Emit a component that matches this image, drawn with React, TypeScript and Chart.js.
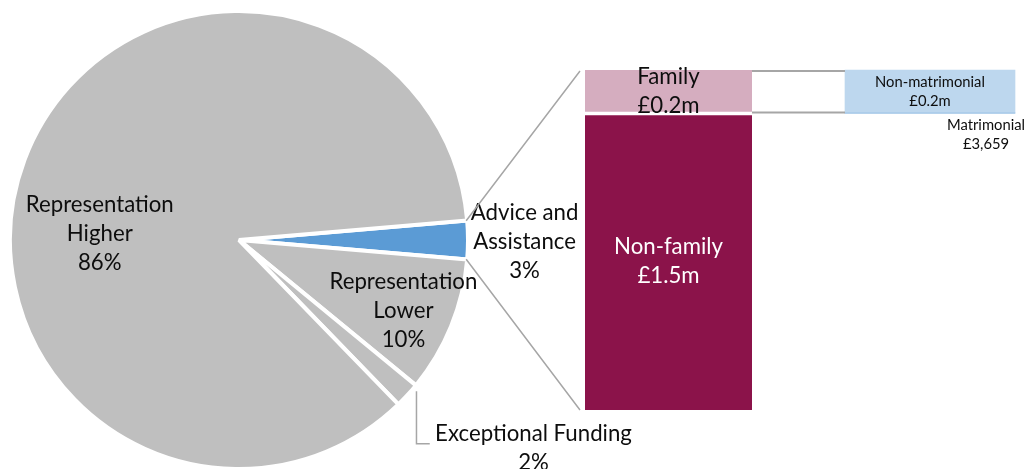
import { useEffect, useRef } from "react";
import { Chart, registerables } from "chart.js";

Chart.register(...registerables);

// ---------- data ----------
const pieCategories = ["Advice and Assistance", "Representation Lower", "Exceptional Funding", "Representation Higher"];
const pieShares = [2.7, 9.6, 1.8, 85.9];
const pieShareLabels = ["3%", "10%", "2%", "86%"];
const pieNameLines = [["Advice and", "Assistance"], ["Representation", "Lower"], ["Exceptional Funding"], ["Representation", "Higher"]];

const barCategories = ["Advice and Assistance", "Family"];
const nonFamilyValues = [1.5, null];
const familyValues = [0.22, null];
const matrimonialValues = [null, 0.003659];
const nonMatrimonialValues = [null, 0.216341];
const barSeriesNames = ["Non-family", "Family", "Matrimonial", "Non-matrimonial"];
const barValueLabels = ["£1.5m", "£0.2m", "£3,659", "£0.2m"];

// ---------- style ----------
const FONT = "Lato, 'Open Sans', sans-serif";
const GREY = "#BFBFBF";
const BLUE = "#5B9BD5";
const MAROON = "#8B134A";
const PINK = "#D5ADBF";
const LIGHTBLUE = "#BDD7EE";
const LINE = "#A6A6A6";
const TEXT = "#0D0D0D";
const pieColors = [BLUE, GREY, GREY, GREY];
// label block centers, in fractions of the pie radius from its centre
const pieLabelPos = [
  { x: 1.247, y: 0.009 },
  { x: 0.718, y: 0.308 },
  { x: 1.286, y: 0.91 },
  { x: -0.608, y: -0.026 },
];
const exceptionalLeader = [
  { x: 0.775, y: 0.661 },
  { x: 0.775, y: 0.89 },
  { x: 0.833, y: 0.89 },
];

const W = 1027;
const H = 480;

function fitSize(ctx: CanvasRenderingContext2D, text: string, target: number) {
  ctx.font = `100px ${FONT}`;
  return (100 * target) / ctx.measureText(text).width;
}

function drawLines(ctx: CanvasRenderingContext2D, lines: string[], x: number, cy: number, lh: number) {
  const n = lines.length;
  lines.forEach((t, i) => {
    ctx.fillText(t, x, cy + (i - (n - 1) / 2) * lh);
  });
}

export default function App() {
  const pieRef = useRef<HTMLCanvasElement>(null);
  const barRef = useRef<HTMLCanvasElement>(null);

  useEffect(() => {
    if (!pieRef.current || !barRef.current) return;
    const adviceDeg = (pieShares[0] / pieShares.reduce((a, b) => a + b, 0)) * 360;

    const pieLabelsPlugin = {
      id: "pieLabels",
      afterDraw(chart: any) {
        const ctx = chart.ctx as CanvasRenderingContext2D;
        const arc = chart.getDatasetMeta(0).data[0];
        const cx = arc.x, cy = arc.y, R = arc.outerRadius;
        const size = fitSize(ctx, "Representation", 148);
        ctx.save();
        ctx.font = `${size}px ${FONT}`;
        ctx.fillStyle = TEXT;
        ctx.textAlign = "center";
        ctx.textBaseline = "middle";
        const lh = size * 1.3;
        pieCategories.forEach((_, i) => {
          const p = pieLabelPos[i];
          drawLines(ctx, [...pieNameLines[i], pieShareLabels[i]], cx + p.x * R, cy + p.y * R, lh);
        });
        ctx.strokeStyle = LINE;
        ctx.lineWidth = 1.5;
        ctx.beginPath();
        exceptionalLeader.forEach((p, i) => {
          const x = cx + p.x * R, y = cy + p.y * R;
          if (i === 0) ctx.moveTo(x, y);
          else ctx.lineTo(x, y);
        });
        ctx.stroke();
        ctx.restore();
      },
    };

    const pie = new Chart(pieRef.current, {
      type: "pie",
      data: {
        labels: pieCategories,
        datasets: [
          {
            data: pieShares,
            backgroundColor: pieColors,
            borderColor: "#FFFFFF",
            borderWidth: 4,
          },
        ],
      },
      options: {
        responsive: false,
        animation: false,
        rotation: 90 - adviceDeg / 2,
        layout: { padding: { left: 8, top: 9, right: W - 470, bottom: H - 471 } },
        plugins: { legend: { display: false }, tooltip: { enabled: false } },
      },
      plugins: [pieLabelsPlugin],
    } as any);

    const overlayPlugin = {
      id: "overlay",
      afterDatasetsDraw(chart: any) {
        const ctx = chart.ctx as CanvasRenderingContext2D;
        const nf = chart.getDatasetMeta(0).data[0];
        const fam = chart.getDatasetMeta(1).data[0];
        const mat = chart.getDatasetMeta(2).data[1];
        const nm = chart.getDatasetMeta(3).data[1];
        const arc = pie.getDatasetMeta(0).data[0] as any;
        const barLeft = nf.x - nf.width / 2;
        const famRight = fam.x + fam.width / 2;
        const rightLeft = nm.x - nm.width / 2;
        const rightRight = nm.x + nm.width / 2;
        const famTop = fam.y;
        const famBottom = fam.base;
        ctx.save();
        ctx.strokeStyle = LINE;
        ctx.lineWidth = 1.5;
        const R = arc.outerRadius - 1;
        ctx.beginPath();
        ctx.moveTo(arc.x + R * Math.cos(arc.startAngle), arc.y + R * Math.sin(arc.startAngle));
        ctx.lineTo(barLeft - 5, famTop + 1);
        ctx.moveTo(arc.x + R * Math.cos(arc.endAngle), arc.y + R * Math.sin(arc.endAngle));
        ctx.lineTo(barLeft - 5, nf.base);
        ctx.stroke();
        ctx.lineWidth = 2;
        ctx.beginPath();
        ctx.moveTo(famRight, famTop + 1);
        ctx.lineTo(rightLeft, famTop + 1);
        ctx.moveTo(famRight, famBottom - 1);
        ctx.lineTo(rightLeft, famBottom - 1);
        ctx.stroke();

        const big = fitSize(ctx, "Representation", 148);
        const small = fitSize(ctx, "Non-matrimonial", 110);
        ctx.textAlign = "center";
        ctx.textBaseline = "middle";
        ctx.font = `${big}px ${FONT}`;
        const lh = big * 1.3;
        ctx.fillStyle = "#FFFFFF";
        drawLines(ctx, [barSeriesNames[0], barValueLabels[0]], nf.x, (nf.y + nf.base) / 2, lh);
        ctx.fillStyle = TEXT;
        drawLines(ctx, [barSeriesNames[1], barValueLabels[1]], fam.x, (fam.y + fam.base) / 2, lh);
        ctx.font = `${small}px ${FONT}`;
        const slh = small * 1.28;
        drawLines(ctx, [barSeriesNames[3], barValueLabels[3]], nm.x, (nm.y + nm.base) / 2, slh);
        drawLines(ctx, [barSeriesNames[2], barValueLabels[2]], rightRight - 29, mat.base + 12 + slh / 2, slh);
        ctx.restore();
      },
    };

    const common = {
      grouped: false,
      categoryPercentage: 1,
      barPercentage: 1,
      clip: false,
    };
    const leftTotal = (nonFamilyValues[0] as number) + (familyValues[0] as number);
    const bar = new Chart(barRef.current, {
      type: "bar",
      data: {
        labels: barCategories,
        datasets: [
          {
            ...common,
            label: barSeriesNames[0],
            data: nonFamilyValues,
            backgroundColor: MAROON,
            borderColor: "#FFFFFF",
            borderWidth: { top: 2, bottom: 0, left: 0, right: 0 },
            borderSkipped: false,
            stack: "left",
            yAxisID: "y",
            barThickness: 167,
          },
          {
            ...common,
            label: barSeriesNames[1],
            data: familyValues,
            backgroundColor: PINK,
            borderColor: "#FFFFFF",
            borderWidth: { top: 0, bottom: 2, left: 0, right: 0 },
            borderSkipped: false,
            stack: "left",
            yAxisID: "y",
            barThickness: 167,
          },
          {
            ...common,
            label: barSeriesNames[2],
            data: matrimonialValues,
            backgroundColor: "#9DC3E6",
            stack: "right",
            yAxisID: "y2",
            barThickness: 170,
          },
          {
            ...common,
            label: barSeriesNames[3],
            data: nonMatrimonialValues,
            backgroundColor: LIGHTBLUE,
            stack: "right",
            yAxisID: "y2",
            barThickness: 170,
          },
        ],
      },
      options: {
        responsive: false,
        animation: false,
        layout: { padding: { left: 668.5, right: W - 930, top: 70, bottom: H - 410 } },
        scales: {
          x: { type: "category", offset: false, display: false, stacked: true },
          y: { display: false, stacked: true, min: 0, max: leftTotal },
          y2: {
            display: false,
            stacked: true,
            min: -(nonFamilyValues[0] as number),
            max: familyValues[0] as number,
          },
        },
        plugins: { legend: { display: false }, tooltip: { enabled: false } },
      },
      plugins: [overlayPlugin],
    } as any);

    return () => {
      bar.destroy();
      pie.destroy();
    };
  }, []);

  return (
    <div
      style={{
        position: "absolute",
        left: 0,
        top: 0,
        width: 1027,
        height: 469,
        overflow: "hidden",
        background: "#FFFFFF",
      }}
    >
      <canvas ref={pieRef} width={W} height={H} style={{ position: "absolute", left: 0, top: 0 }} />
      <canvas ref={barRef} width={W} height={H} style={{ position: "absolute", left: 0, top: 0 }} />
    </div>
  );
}
